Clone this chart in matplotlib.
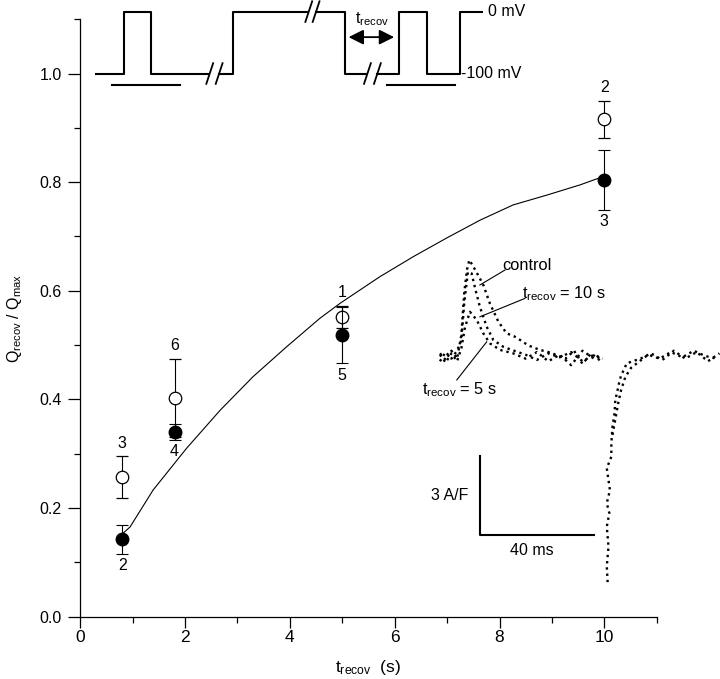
import numpy as np
import matplotlib
matplotlib.use('Agg')
import matplotlib.pyplot as plt

plt.rcParams['font.family'] = ['Liberation Sans', 'DejaVu Sans']
plt.rcParams['mathtext.default'] = 'regular'

# recovery data (normalised charge)
t_open = [0.8, 1.8, 5.0, 10.0]
q_open = [0.257, 0.403, 0.552, 0.916]
err_open = [0.038, 0.072, 0.020, 0.034]
n_open = ['3', '6', '1', '2']

t_filled = [0.8, 1.8, 5.0, 10.0]
q_filled = [0.142, 0.340, 0.518, 0.804]
err_filled = [0.027, 0.015, 0.052, 0.055]
n_filled = ['2', '4', '5', '3']

# fitted curve
fit_t = [0.80, 0.95, 1.39, 2.03, 2.67, 3.30, 3.94, 4.57, 4.96, 5.72, 6.36, 6.99,
         7.63, 8.26, 8.90, 9.54, 10.0]
fit_q = [0.152, 0.165, 0.233, 0.310, 0.380, 0.442, 0.497, 0.549, 0.577, 0.626,
         0.663, 0.697, 0.730, 0.758, 0.776, 0.795, 0.811]

# current traces (ms, A/F)
ctrl_t = [0, 2, 4, 6, 7.5, 8.5, 9.5, 10.3, 11.7, 13.5, 15.2, 17.5, 20.5, 23.4, 26,
          28.1, 31, 35.1, 38, 40.9, 44, 47, 50, 53, 56.5]
ctrl_i = [0.1, -0.15, 0.2, -0.1, 0.8, 2.4, 3.3, 3.65, 3.40, 3.05, 2.70, 2.00, 1.30,
          0.86, 0.75, 0.61, 0.40, 0.23, 0.15, 0.04, -0.1, 0.2, -0.3, 0.1, -0.2]
r10_t = [0, 2, 4, 6, 7.5, 8.5, 9.8, 11.1, 12.5, 14.0, 16.4, 18.7, 22.2, 26, 30, 34,
         38, 42, 46, 50, 54, 57]
r10_i = [-0.2, 0.15, -0.1, 0.2, 0.6, 2.0, 3.2, 3.14, 2.5, 1.87, 1.11, 0.61, 0.35,
         0.2, 0.05, -0.15, 0.1, -0.05, 0.15, -0.2, 0.05, -0.1]
r5_t = [0, 2, 4, 6, 7.5, 8.8, 10.5, 12.9, 15.2, 17.5, 21.1, 25.7, 30, 34, 38, 42,
        46, 50, 54, 57]
r5_i = [0.05, -0.25, 0.1, -0.2, 0.3, 1.1, 1.68, 1.37, 0.86, 0.48, 0.23, 0.10, -0.1,
        0.15, -0.2, 0.05, -0.35, 0.2, -0.1, 0.0]
off_t = [58.8, 58.5, 59.1, 58.5, 59.4, 58.5, 59.6, 58.5, 60.1, 60.1, 60.5, 61.2,
         61.5, 62.3, 62.9, 63.5, 65.5, 70.5, 74, 78, 82, 86, 90, 94, 98]
off_i = [-8.6, -8.0, -7.25, -6.49, -5.98, -5.6, -5.1, -4.27, -3.83, -3.32, -2.69,
         -2.18, -1.67, -1.29, -0.98, -0.75, -0.28, -0.09, 0.1, -0.15, 0.2, -0.1,
         0.15, -0.2, 0.1]
off2_t = [60.5, 61.5, 62.5, 63.5, 65, 67, 70, 73, 77, 81, 85, 89, 93, 97]
off2_i = [-3.0, -2.4, -1.8, -1.3, -0.8, -0.45, -0.2, 0.05, -0.1, 0.15, -0.05, 0.2,
          0.0, -0.1]

fig = plt.figure(figsize=(7.2, 6.79), dpi=100)
ax = fig.add_axes([0.1115, 0.0920, 0.8006, 0.8797])

ax.plot(fit_t, fit_q, color='black', lw=0.8, zorder=2)
ax.errorbar(t_open, q_open, yerr=err_open, fmt='o', ms=9, mfc='white', mec='black',
            mew=0.9, ecolor='black', elinewidth=0.8, capsize=4.5, capthick=0.8, zorder=3)
ax.errorbar(t_filled, q_filled, yerr=err_filled, fmt='o', ms=9, mfc='black',
            mec='black', ecolor='black', elinewidth=0.8, capsize=4.5, capthick=0.8,
            zorder=4)
for x, y, e, n in zip(t_open, q_open, err_open, n_open):
    ax.annotate(n, (x, y + e), xytext=(0, 9.5), textcoords='offset points',
                ha='center', va='center', fontsize=11.5)
for x, y, e, n in zip(t_filled, q_filled, err_filled, n_filled):
    ax.annotate(n, (x, y - e), xytext=(0, -8.5), textcoords='offset points',
                ha='center', va='center', fontsize=11.5)

narrow = ['Liberation Sans Narrow', 'Liberation Sans', 'DejaVu Sans']

ax.set_xlim(0, 11)
ax.set_ylim(0, 1.1)
ax.set_xticks(np.arange(0, 11, 2))
ax.set_xticks(np.arange(1, 12, 2), minor=True)
ax.set_yticks(np.arange(0, 1.01, 0.2))
ax.set_yticks(np.arange(0.1, 1.11, 0.2), minor=True)
ax.set_yticklabels(['0.0', '0.2', '0.4', '0.6', '0.8', '1.0'])
ax.tick_params(which='both', direction='out', width=0.9, labelsize=11.5)
ax.tick_params(axis='x', which='major', length=8, pad=2, labelsize=12.5)
ax.tick_params(axis='x', which='minor', length=4)
ax.tick_params(axis='y', which='major', length=9, pad=4.5)
ax.tick_params(axis='y', which='minor', length=4.5)
for lab in ax.get_xticklabels():
    lab.set_family(narrow)
for s in ['top', 'right']:
    ax.spines[s].set_visible(False)
for s in ['left', 'bottom']:
    ax.spines[s].set_linewidth(0.9)
ax.set_xlabel(r't$_{recov}$  (s)', fontsize=12.5, family=narrow)
ax.set_ylabel(r'Q$_{recov}$ / Q$_{max}$', fontsize=11.5)
ax.xaxis.set_label_coords(0.5, -0.07)
ax.yaxis.set_label_coords(-0.097, 0.5)

# voltage protocol
lo, hi = 1.0, 1.114
px = [0.30, 0.84, 0.84, 1.35, 1.35, 2.43, np.nan, 2.64, 2.92, 2.92, 4.33, np.nan,
      4.50, 5.05, 5.05, 5.46, np.nan, 5.67, 6.09, 6.09, 6.62, 6.62, 7.25, 7.25, 7.67]
py = [lo, lo, hi, hi, lo, lo, np.nan, lo, lo, hi, hi, np.nan,
      hi, hi, lo, lo, np.nan, lo, lo, hi, hi, lo, lo, hi, hi]
ax.plot(px, py, color='black', lw=1.5, clip_on=False)
for bx, by in [(2.47, lo), (2.65, lo), (4.36, hi), (4.50, hi), (5.48, lo), (5.67, lo)]:
    ax.plot([bx - 0.065, bx + 0.065], [by - 0.019, by + 0.019], color='black', lw=1.3,
            clip_on=False)
ax.plot([0.61, 1.91], [0.978, 0.978], color='black', lw=1.5, clip_on=False)
ax.plot([5.85, 7.15], [0.978, 0.978], color='black', lw=1.5, clip_on=False)
ax.annotate('', xy=(5.12, 1.067), xytext=(5.99, 1.067), annotation_clip=False,
            arrowprops=dict(arrowstyle='<|-|>,head_length=0.5,head_width=0.25',
                            mutation_scale=18, color='black', lw=1.3,
                            shrinkA=0, shrinkB=0))
ax.text(5.57, 1.100, r't$_{recov}$', ha='center', va='center', fontsize=11.5)
ax.text(7.79, hi, '0 mV', ha='left', va='center', fontsize=11.5)
ax.text(7.27, lo, '-100 mV', ha='left', va='center', fontsize=11.5)

# inset with current traces
ins = fig.add_axes([0.5972, 0.1163, 0.4028, 0.5302])
ins.set_xlim(-3.5, 98.2)
ins.set_ylim(-9.28, 4.41)
ins.axis('off')
for tt, ii in [(ctrl_t, ctrl_i), (r10_t, r10_i), (r5_t, r5_i), (off_t, off_i),
               (off2_t, off2_i)]:
    ins.plot(tt, ii, color='black', ls=':', lw=1.7)

ins.plot([14.0, 14.0, 54.0], [-3.80, -6.81, -6.81], color='black', lw=1.5)
ins.text(9.8, -5.29, '3 A/F', ha='right', va='center', fontsize=11.5)
ins.text(32.2, -7.40, '40 ms', ha='center', va='center', fontsize=11.5)

ins.text(30.5, 3.46, 'control', ha='center', va='center', fontsize=11.8)
ins.plot([22.8, 14.0], [3.27, 2.70], color='black', lw=0.8)
ins.text(28.7, 2.38, r't$_{recov}$ = 10 s', ha='left', va='center', fontsize=11.8)
ins.plot([29.8, 14.0], [2.19, 1.49], color='black', lw=0.8)
ins.text(-6.4, -1.29, r't$_{recov}$ = 5 s', ha='left', va='center', fontsize=11.8)
ins.plot([5.9, 16.4], [-0.91, 0.54], color='black', lw=0.8)

fig.savefig('out.png', dpi=100)
